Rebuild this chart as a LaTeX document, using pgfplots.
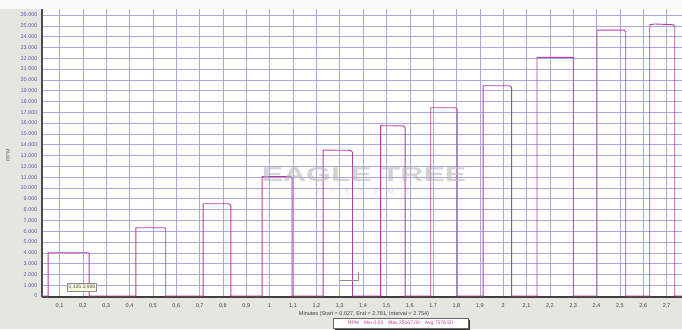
\documentclass[border=0pt]{standalone}
\usepackage{pgfplots}
\pgfplotsset{compat=1.18}
\usepackage{fontspec}
\setmainfont{Liberation Sans}
\definecolor{bgpanel}{RGB}{230,230,225}
\definecolor{gridblue}{RGB}{168,168,218}
\definecolor{rpmline}{RGB}{185,60,160}
\definecolor{ylab}{RGB}{90,90,180}
\definecolor{xlab}{RGB}{60,60,60}
\begin{document}
\begin{tikzpicture}[x=1pt,y=1pt]
\useasboundingbox (0,0) rectangle (682,329);
\fill[bgpanel] (0,0) rectangle (682,329);
\fill[white!96!gray] (0,320) rectangle (682,329);
\begin{axis}[
  at={(42pt,32pt)}, anchor=south west,
  scale only axis, width=640pt, height=288pt,
  xmin=0.025, xmax=2.766, ymin=-90, ymax=26555,
  axis background/.style={fill=white},
  axis x line*=bottom, axis y line*=left,
  x axis line style={-, draw=black!75, line width=1.4pt},
  y axis line style={-, draw=black!70, line width=1.4pt},
  major tick length=0pt,
  xtick={0.1,0.2,0.3,0.4,0.5,0.6,0.7,0.8,0.9,1,1.1,1.2,1.3,1.4,1.5,1.6,1.7,1.8,1.9,2,2.1,2.2,2.3,2.4,2.5,2.6,2.7},
  xticklabels={{0,1},{0,2},{0,3},{0,4},{0,5},{0,6},{0,7},{0,8},{0,9},1,{1,1},{1,2},{1,3},{1,4},{1,5},{1,6},{1,7},{1,8},{1,9},2,{2,1},{2,2},{2,3},{2,4},{2,5},{2,6},{2,7}},
  ytick={0,1000,2000,3000,4000,5000,6000,7000,8000,9000,10000,11000,12000,13000,14000,15000,16000,17000,18000,19000,20000,21000,22000,23000,24000,25000,26000},
  yticklabels={0,1.000,2.000,3.000,4.000,5.000,6.000,7.000,8.000,9.000,10.000,11.000,12.000,13.000,14.000,15.000,16.000,17.000,18.000,19.000,20.000,21.000,22.000,23.000,24.000,25.000,26.000},
  xticklabel style={font=\fontsize{5.5}{6}\selectfont, text=xlab, yshift=-3pt},
  yticklabel style={font=\fontsize{5.5}{6}\selectfont, text=ylab, xshift=-1pt},
  grid=major,
  major grid style={draw=gridblue, line width=0.5pt},
  clip=true,
]
\addplot[rpmline, line width=0.9pt, line join=round] coordinates {
 (0.025,0) (0.051,0) (0.051,4000) (0.222,4000) (0.227,3950) (0.227,0)
 (0.427,0) (0.427,6320) (0.549,6320) (0.555,6200) (0.555,0)
 (0.715,0) (0.715,8540) (0.826,8540) (0.834,8380) (0.834,0)
 (0.968,0) (0.968,11040) (1.089,11040) (1.096,10900) (1.096,0)
 (1.229,0) (1.229,13500) (1.347,13480) (1.355,13300) (1.355,0)
 (1.475,0) (1.475,15760) (1.572,15740) (1.580,15580) (1.580,0)
 (1.690,0) (1.690,17420) (1.796,17420) (1.803,17280) (1.803,0)
 (1.914,0) (1.914,19450) (2.028,19450) (2.036,19300) (2.036,0)
 (2.145,0) (2.145,22080) (2.300,22080) (2.300,0)
 (2.402,0) (2.402,24600) (2.518,24600) (2.525,24450) (2.525,0)
 (2.628,0) (2.628,25100) (2.650,25167) (2.727,25100) (2.735,24950) (2.735,0)
 (2.766,0)
};
\end{axis}
% watermark
\node[text=black!28, opacity=0.6, font=\bfseries\fontsize{20}{20}\selectfont, xscale=1.6] at (364,154) {EAGLE TREE};
\node[text=black!25, opacity=0.6, font=\fontsize{7}{7}\selectfont] at (362,137) {S\hspace{10pt}Y\hspace{10pt}S\hspace{10pt}T\hspace{10pt}E\hspace{10pt}M\hspace{10pt}S};
% cursor mark
\draw[black!45, line width=0.8pt] (340,49) -- (358,49) -- (358,57);
% tooltip
\node[draw=black!45, fill={rgb,255:red,250;green,250;blue,225}, inner sep=1.5pt, font=\fontsize{5}{5}\selectfont, text=black!70, anchor=south west] at (67,38) {0,135\ 3,998};
% y label
\node[rotate=90, text=black!60, font=\fontsize{5.5}{6}\selectfont] at (8,174) {RPM};
% x label
\node[text=xlab, font=\fontsize{5.5}{6}\selectfont] at (364,15) {Minutes (Start = 0.027, End = 2.781, Interval = 2.754)};
% stats box
\fill[black!80] (335,-1) rectangle (470,9);
\fill[white] (333,1) rectangle (468,11);
\draw[black!60, line width=0.4pt] (333,1) rectangle (468,11);
\node[text=rpmline, font=\fontsize{5}{5}\selectfont] at (400.5,6) {RPM\quad Min 0.00\quad Max 25167.00\quad Avg 7576.50};
\end{tikzpicture}
\end{document}
